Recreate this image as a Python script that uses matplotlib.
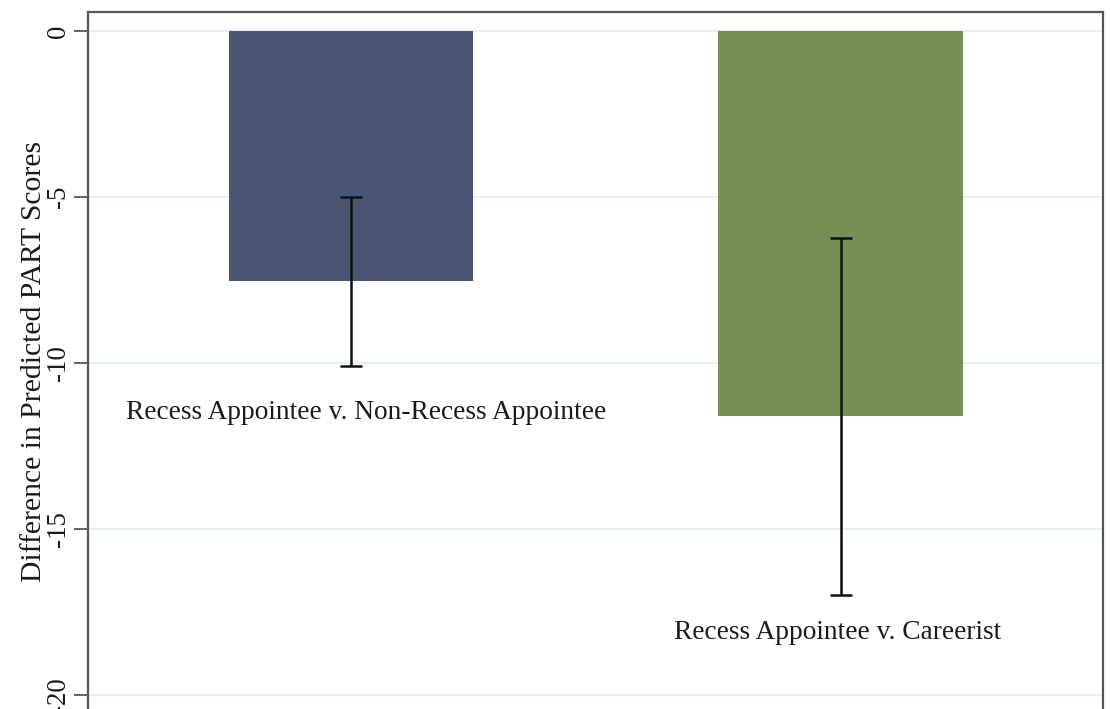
import matplotlib
matplotlib.use("Agg")
import matplotlib.pyplot as plt

# comparison bars: point estimate with confidence interval
categories = ["Recess Appointee v. Non-Recess Appointee",
              "Recess Appointee v. Careerist"]
estimates = [-7.52, -11.6]
ci_upper = [-5.0, -6.25]
ci_lower = [-10.1, -17.0]
label_y = [-11.48, -18.12]
label_x = [0.03, -0.005]
bar_colors = ["#4a5573", "#768f55"]
yticks = [0, -5, -10, -15, -20]
ylabel = "Difference in Predicted PART Scores"

plt.rcParams["font.family"] = ["Liberation Serif", "DejaVu Serif"]

fig = plt.figure(figsize=(11.1, 7.09), dpi=100)
ax = fig.add_axes([0.0793, -0.0271, 0.9144, 1.0102])

x = list(range(len(categories)))
ax.bar(x, estimates, width=0.5, color=bar_colors, zorder=2)
for xi, lo, hi in zip(x, ci_lower, ci_upper):
    half = (hi - lo) / 2
    ax.errorbar([xi], [lo + half], yerr=[[half], [half]],
                fmt="none", ecolor="#111111", elinewidth=1.8, capsize=8,
                capthick=1.8, zorder=3)
for xi, dx, ly, name in zip(x, label_x, label_y, categories):
    ax.text(xi + dx, ly, name, ha="center", va="center", fontsize=19.7,
            color="#1a1a1a", zorder=4)

ax.set_xlim(-0.537, 1.536)
ax.set_ylim(-21, 0.572)
ax.set_xticks([])
ax.set_yticks(yticks)
ax.set_yticklabels([str(t) for t in yticks], rotation=90, va="center",
                   fontsize=19.4, color="#1a1a1a")
ax.tick_params(axis="y", direction="out", length=10, width=1.3,
               color="#555555", pad=2)
ax.yaxis.grid(True, color="#e6eff1", linewidth=1.5, zorder=0)
ax.set_axisbelow(True)
for s in ax.spines.values():
    s.set_color("#555555")
    s.set_linewidth(1.6)

# axis title placed in figure pixels to match the reference
fig.text(34 / 1110, 1 - 361 / 709, ylabel, rotation=90, ha="center",
         va="center", fontsize=21.3, color="#1a1a1a")

fig.savefig("out.png", dpi=100)
